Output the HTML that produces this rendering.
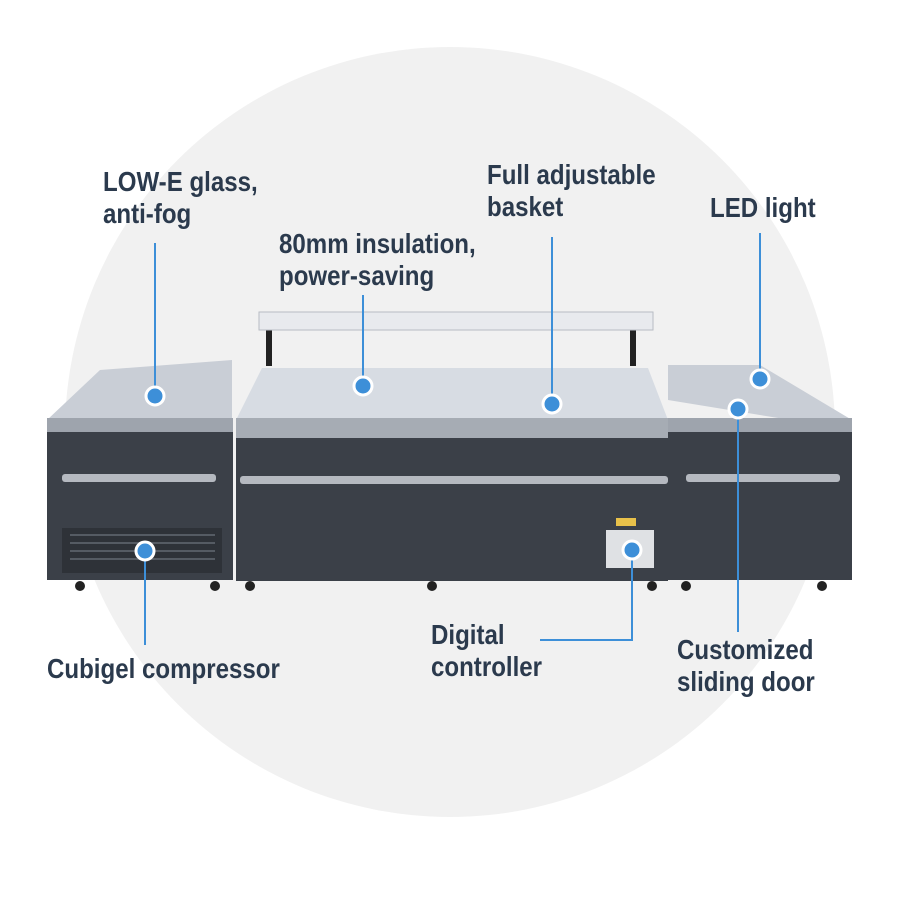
<!DOCTYPE html>
<html><head><style>
body{margin:0;width:900px;height:900px;background:#fff;position:relative;overflow:hidden;font-family:"Liberation Sans",sans-serif;}
.t{position:absolute;color:#2b3a4d;font-weight:bold;font-size:28px;line-height:32px;transform:scaleX(0.86);transform-origin:0 0;white-space:nowrap;}
</style></head><body>
<svg width="900" height="900" style="position:absolute;left:0;top:0">
<circle cx="450" cy="432" r="385" fill="#f1f1f1"/>
<rect x="266" y="328" width="6" height="38" fill="#222"/>
<rect x="630" y="328" width="6" height="38" fill="#222"/>
<rect x="259" y="312" width="394" height="18" fill="#e8eaee" stroke="#b8bcc4"/>
<polygon points="47,420 100,370 232,360 232,420" fill="#c9ced6"/>
<rect x="47" y="418" width="186" height="14" fill="#9ea4ad"/>
<rect x="47" y="432" width="186" height="148" fill="#3b4048"/>
<rect x="62" y="474" width="154" height="8" rx="3" fill="#b5b9c0"/>
<rect x="62" y="528" width="160" height="45" fill="#2e3238"/>
<g stroke="#555b63" stroke-width="2"><line x1="70" y1="535" x2="215" y2="535"/><line x1="70" y1="543" x2="215" y2="543"/><line x1="70" y1="551" x2="215" y2="551"/><line x1="70" y1="559" x2="215" y2="559"/></g>
<polygon points="236,420 262,368 648,368 668,420" fill="#d7dce3"/>
<rect x="236" y="418" width="432" height="20" fill="#a6acb4"/>
<rect x="236" y="438" width="432" height="143" fill="#3b4048"/>
<rect x="240" y="476" width="428" height="8" rx="3" fill="#b5b9c0"/>
<rect x="606" y="530" width="48" height="38" fill="#dfe1e4"/>
<rect x="616" y="518" width="20" height="8" fill="#e8c14a"/>
<polygon points="668,400 668,365 760,365 852,420 852,430" fill="#c9ced6"/>
<rect x="668" y="418" width="184" height="14" fill="#9ea4ad"/>
<rect x="668" y="432" width="184" height="148" fill="#3b4048"/>
<rect x="686" y="474" width="154" height="8" rx="3" fill="#b5b9c0"/>
<g fill="#222"><circle cx="80" cy="586" r="5"/><circle cx="215" cy="586" r="5"/><circle cx="250" cy="586" r="5"/><circle cx="432" cy="586" r="5"/><circle cx="652" cy="586" r="5"/><circle cx="686" cy="586" r="5"/><circle cx="822" cy="586" r="5"/></g>
<g stroke="#3d8fd8" stroke-width="2" fill="none">
<line x1="155" y1="243" x2="155" y2="396"/>
<line x1="363" y1="295" x2="363" y2="386"/>
<line x1="552" y1="237" x2="552" y2="404"/>
<line x1="760" y1="233" x2="760" y2="379"/>
<line x1="738" y1="409" x2="738" y2="632"/>
<polyline points="632,550 632,640 540,640"/>
<line x1="145" y1="551" x2="145" y2="645"/>
</g>
<g fill="#3d8fd8" stroke="#fff" stroke-width="3">
<circle cx="155" cy="396" r="9"/><circle cx="363" cy="386" r="9"/><circle cx="552" cy="404" r="9"/><circle cx="760" cy="379" r="9"/><circle cx="738" cy="409" r="9"/><circle cx="632" cy="550" r="9"/><circle cx="145" cy="551" r="9"/>
</g>
</svg>
<div class="t" style="left:103px;top:166px">LOW-E glass,<br>anti-fog</div>
<div class="t" style="left:279px;top:228px">80mm insulation,<br>power-saving</div>
<div class="t" style="left:487px;top:159px">Full adjustable<br>basket</div>
<div class="t" style="left:710px;top:192px">LED light</div>
<div class="t" style="left:47px;top:653px">Cubigel compressor</div>
<div class="t" style="left:431px;top:619px">Digital<br>controller</div>
<div class="t" style="left:677px;top:634px">Customized<br>sliding door</div>
</body></html>
